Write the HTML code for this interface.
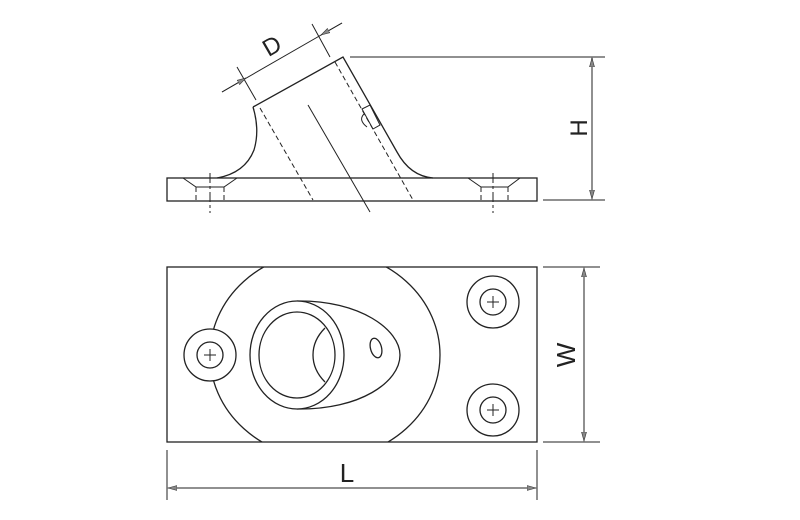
<!DOCTYPE html>
<html><head><style>html,body{margin:0;padding:0;background:#fff}svg{display:block}</style></head>
<body>
<svg width="800" height="520" viewBox="0 0 800 520" xmlns="http://www.w3.org/2000/svg" fill="none" stroke="#222" stroke-width="1.3">
<defs>
<marker id="a" markerWidth="10" markerHeight="6" refX="9" refY="3" orient="auto" markerUnits="userSpaceOnUse"><path d="M0,0.5 L9,3 L0,5.5z" fill="#888" stroke="#333" stroke-width="0.6"/></marker>
<clipPath id="rc"><rect x="167" y="267" width="370" height="175"/></clipPath>
</defs>
<!-- Side view -->
<rect x="167" y="178" width="370" height="23"/>
<path d="M253,107 L343,57 L397,152 Q410,176 433,178"/>
<path d="M253,107 Q260,130 254,150 Q245,173 217,178"/>
<g stroke-dasharray="5,3" stroke-width="1">
<path d="M260,108 L313,200"/><path d="M335,62 L413,200"/>
<path d="M196,187 L196,201 M224,187 L224,201 M481,187 L481,201 M508,187 L508,201"/>
</g>
<path d="M183,178 L196,187 L224,187 L237,178 M468,178 L481,187 L508,187 L520,178" stroke-width="1"/>
<path d="M308,105 L370,212" stroke-width="1"/>
<path d="M210,173 L210,213 M493,173 L493,213" stroke-width="1" stroke-dasharray="10,3,3,3"/>
<path d="M362,109 L370,105 L380,125 L373,129 Z M364,114 Q358,120 367,127" stroke-width="1"/>
<!-- H dim -->
<path d="M350,57 L605,57 M543,200 L605,200" stroke-width="1"/>
<line x1="592" y1="60" x2="592" y2="58" />
<path d="M592,100 L592,58" marker-end="url(#a)" stroke-width="1"/>
<path d="M592,150 L592,199" marker-end="url(#a)" stroke-width="1"/>
<path d="M592,100 L592,150" stroke-width="1"/>
<text x="578" y="128" font-family="Liberation Sans, sans-serif" font-size="24" fill="#222" stroke="none" text-anchor="middle" transform="rotate(-90 578 128) translate(0 9)">H</text>
<!-- D dim -->
<path d="M237,67 L256,100 M312,24 L330,57" stroke-width="1"/>
<path d="M222,92 L342,23" stroke-width="1"/>
<path d="M222,92 L246,78" marker-end="url(#a)" stroke-width="1"/>
<path d="M342,23 L321,35" marker-end="url(#a)" stroke-width="1"/>
<text x="272" y="46" font-family="Liberation Sans, sans-serif" font-size="24" fill="#222" stroke="none" text-anchor="middle" transform="rotate(-30 272 46) translate(0 8)">D</text>
<!-- Top view -->
<rect x="167" y="267" width="370" height="175"/>
<ellipse cx="325" cy="355" rx="115" ry="104" clip-path="url(#rc)"/>
<circle cx="210" cy="355" r="26" fill="#fff"/>
<circle cx="210" cy="355" r="13"/>
<circle cx="493" cy="302" r="26"/><circle cx="493" cy="302" r="13"/>
<circle cx="493" cy="410" r="26"/><circle cx="493" cy="410" r="13"/>
<g stroke-width="1"><path d="M204,355 h12 M210,349 v12 M487,302 h12 M493,296 v12 M487,410 h12 M493,404 v12"/></g>
<path d="M297,301 C360,300 400,330 400,355 C400,382 360,410 297,409"/>
<ellipse cx="297" cy="355" rx="47" ry="54" fill="#fff"/>
<ellipse cx="297" cy="355" rx="38" ry="43"/>
<path d="M325,328 Q313,340 313,355 Q313,370 325,382"/>
<ellipse cx="376" cy="348" rx="5.5" ry="10" transform="rotate(-15 376 348)"/>
<!-- W dim -->
<path d="M543,267 L600,267 M543,442 L600,442" stroke-width="1"/>
<path d="M584,320 L584,268" marker-end="url(#a)" stroke-width="1"/>
<path d="M584,320 L584,441" marker-end="url(#a)" stroke-width="1"/>
<text x="566" y="355" font-family="Liberation Sans, sans-serif" font-size="26" fill="#222" stroke="none" text-anchor="middle" transform="rotate(-90 566 355) translate(0 9)">W</text>
<!-- L dim -->
<path d="M167,450 L167,500 M537,450 L537,500" stroke-width="1"/>
<path d="M350,488 L168,488" marker-end="url(#a)" stroke-width="1"/>
<path d="M350,488 L536,488" marker-end="url(#a)" stroke-width="1"/>
<text x="347" y="482" font-family="Liberation Sans, sans-serif" font-size="26" fill="#222" stroke="none" text-anchor="middle">L</text>
</svg>
</body></html>
